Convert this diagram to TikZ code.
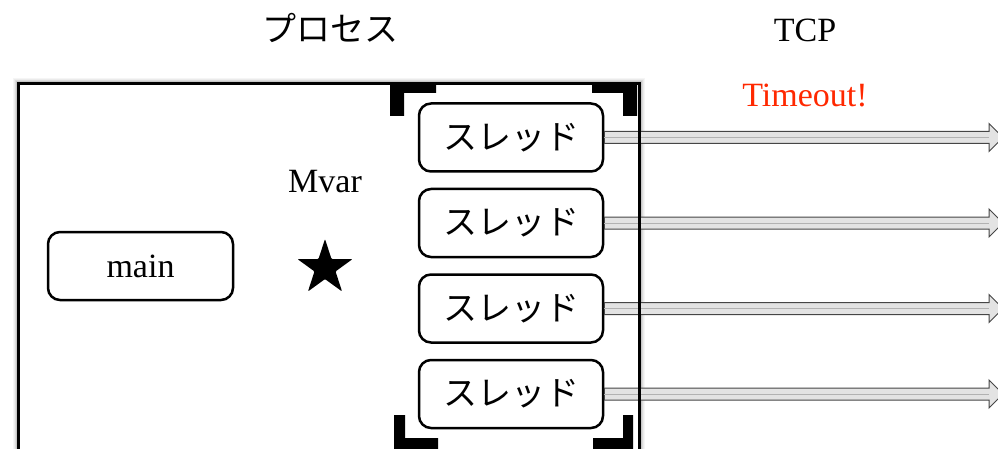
\documentclass[tikz,border=0pt]{standalone}
\usepackage{fontspec}
\setmainfont{Liberation Serif}
\newfontfamily\jp{Noto Sans CJK JP}
\usetikzlibrary{calc,shapes.geometric}
\definecolor{tored}{RGB}{255,40,0}
\newcommand\harrow[2]{%
  \filldraw[harr] ($(#1.east)+(0,-6)$) -- ($(#2)+(-14,-6)$) -- ($(#2)+(-14,-14)$) -- (#2)
    -- ($(#2)+(-14,14)$) -- ($(#2)+(-14,6)$) -- ($(#1.east)+(0,6)$) -- cycle;
  \draw[gray!60, line width=0.8pt] (#1.east) -- ($(#2)+(-14,0)$);
}
\begin{document}
\begin{tikzpicture}[x=1pt,y=-1pt,
  big/.style={font=\fontsize{34}{40}\selectfont},
  jbig/.style={font=\jp\fontsize{34}{40}\selectfont},
  rbox/.style={draw, line width=2.5pt, rounded corners=12pt, minimum width=184pt, minimum height=68pt, fill=white, inner sep=0pt},
  bracket/.style={fill=black},
  harr/.style={fill=gray!22, draw=gray!55!black, line width=1pt, line join=miter},
]
\useasboundingbox (0,0) rectangle (998,449);
\clip (0,0) rectangle (998,449);

% soft shadow of the process frame
\foreach \i/\o in {1/0.30,2/0.22,3/0.14,4/0.08,5/0.04}
  \draw[black, opacity=\o, line width=1pt] (18.5-\i,83.5-\i) rectangle (639.5+\i,470);

% thread boxes
\node[rbox, jbig] (t1) at (511,137.5) {スレッド};
\node[rbox, jbig] (t2) at (511,223) {スレッド};
\node[rbox, jbig] (t3) at (511,308.5) {スレッド};
\node[rbox, jbig] (t4) at (511,394) {スレッド};

% TCP ends
\coordinate (e1) at (1003,137.5);
\coordinate (e2) at (1003,223);
\coordinate (e3) at (1003,308.5);
\coordinate (e4) at (1003,394);
\harrow{t1}{e1}
\harrow{t2}{e2}
\harrow{t3}{e3}
\harrow{t4}{e4}

% process frame
\draw[line width=3pt] (18.5,83.5) rectangle (639.5,470);

% corner brackets
\fill[bracket] (390,83) -- (436,83) -- (436,93) -- (404,93) -- (404,116) -- (390,116) -- cycle;
\fill[bracket] (637,83) -- (592,83) -- (592,93) -- (623,93) -- (623,116) -- (637,116) -- cycle;
\fill[bracket] (394,415) -- (405,415) -- (405,438) -- (438,438) -- (438,455) -- (394,455) -- cycle;
\fill[bracket] (633,415) -- (623,415) -- (623,438) -- (593,438) -- (593,455) -- (633,455) -- cycle;

% main and Mvar
\node[rbox, big, minimum width=185pt] (m) at (140.5,266) {main};
\node[star, star points=5, star point ratio=2.618, fill=black, minimum size=58pt, inner sep=0pt, rounded corners=1pt] (st) at (325,268) {};
\node[big] (mv) at (325,182) {Mvar};

% labels
\node[jbig] (title) at (330,28) {プロセス};
\node[big] (tcp) at (805,30) {TCP};
\node[big, text=tored] (to) at (805,95) {Timeout!};
\end{tikzpicture}
\end{document}
